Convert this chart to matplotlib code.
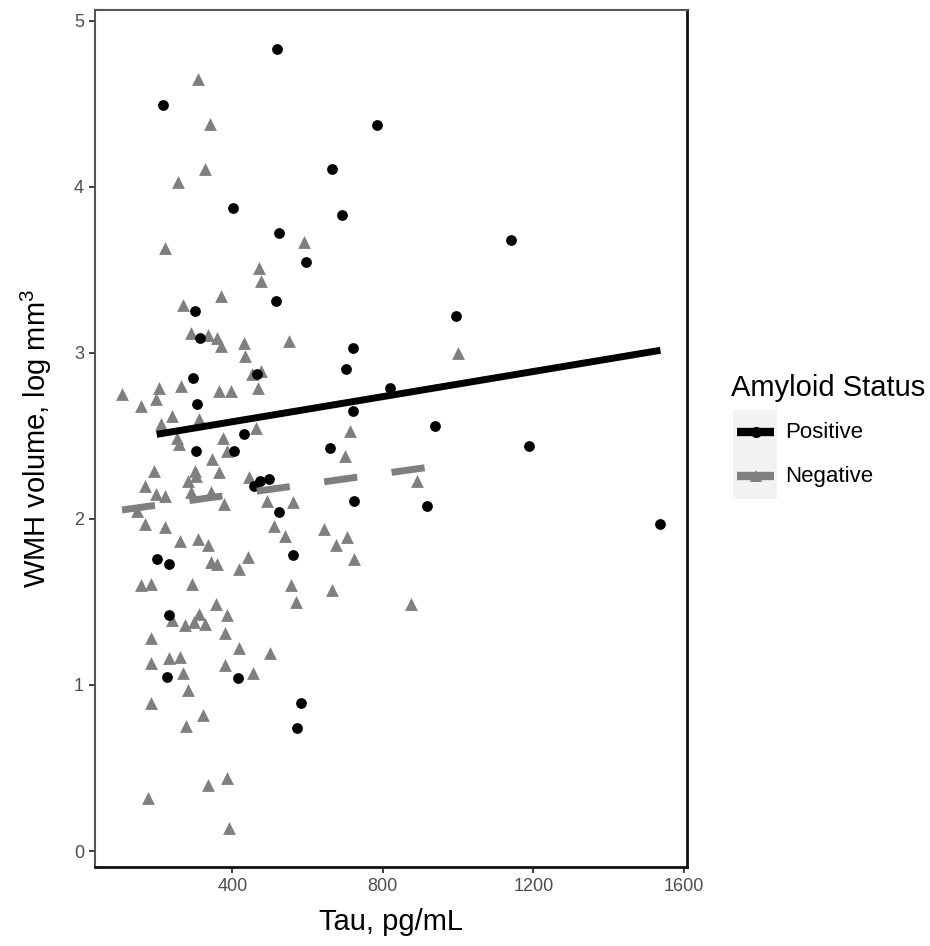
import numpy as np
import matplotlib
matplotlib.use("Agg")
import matplotlib.pyplot as plt
from matplotlib.lines import Line2D
from matplotlib.patches import Rectangle

plt.rcParams['font.family'] = ['Liberation Sans', 'DejaVu Sans']
plt.rcParams['mathtext.fontset'] = 'custom'
plt.rcParams['mathtext.rm'] = 'Liberation Sans'

# Amyloid positive (circles)
pos_tau = [519.5, 216.6, 665.6, 690.4, 400.7, 523.7, 596.5, 785.2, 1141.3, 300.5,
           515.0, 313.8, 294.4, 306.9, 430.7, 303.2, 404.2, 457.3, 473.3, 497.2,
           523.7, 658.5, 198.8, 232.5, 562.0, 464.5, 994.1, 719.6, 701.0, 820.4,
           720.4, 939.3, 1189.1, 723.0, 918.1, 1538.0, 232.5, 225.3, 415.9, 582.2,
           570.8]
pos_wmh = [4.83, 4.49, 4.11, 3.83, 3.87, 3.72, 3.55, 4.37, 3.68, 3.25,
           3.31, 3.09, 2.85, 2.69, 2.51, 2.41, 2.41, 2.20, 2.23, 2.24,
           2.04, 2.43, 1.76, 1.73, 1.78, 2.87, 3.22, 3.03, 2.90, 2.79,
           2.65, 2.56, 2.44, 2.11, 2.08, 1.97, 1.42, 1.05, 1.04, 0.89,
           0.74]

# Amyloid negative (triangles)
neg_tau = [308.5, 340.4, 328.2, 255.4, 220.0, 590.2, 470.6, 475.1, 370.7, 267.9,
           291.0, 335.1, 358.2, 370.7, 430.7, 432.6, 550.3, 451.2, 477.0, 468.0,
           106.6, 204.1, 264.4, 363.5, 397.3, 156.2, 196.9, 238.6, 211.3, 311.2,
           462.6, 251.9, 259.1, 374.1, 386.6, 345.7, 191.6, 299.7, 303.2, 281.9,
           365.4, 168.7, 445.1, 196.9, 220.0, 289.1, 344.1, 377.6, 145.6, 168.7,
           221.9, 491.1, 562.0, 510.5, 540.8, 643.3, 675.2, 260.7, 309.6, 334.3,
           342.3, 360.1, 441.4, 418.5, 999.4, 712.4, 700.2, 889.6, 703.6, 723.0,
           158.1, 184.7, 291.8, 554.8, 664.6, 568.1, 357.4, 312.2, 386.6, 240.5,
           273.2, 297.9, 326.3, 379.5, 184.7, 417.5, 499.0, 232.5, 260.7, 182.8,
           381.3, 269.7, 453.9, 281.9, 182.8, 322.9, 277.7, 384.8, 335.1, 175.6,
           391.9, 873.7]
neg_wmh = [4.65, 4.38, 4.11, 4.03, 3.63, 3.67, 3.51, 3.43, 3.34, 3.29,
           3.12, 3.11, 3.09, 3.04, 3.06, 2.98, 3.07, 2.87, 2.89, 2.79,
           2.75, 2.79, 2.80, 2.77, 2.77, 2.68, 2.72, 2.62, 2.57, 2.60,
           2.55, 2.49, 2.45, 2.49, 2.41, 2.36, 2.29, 2.29, 2.26, 2.23,
           2.28, 2.20, 2.25, 2.15, 2.14, 2.16, 2.16, 2.09, 2.05, 1.97,
           1.95, 2.11, 2.10, 1.96, 1.90, 1.94, 1.84, 1.87, 1.88, 1.84,
           1.74, 1.73, 1.77, 1.70, 3.00, 2.53, 2.38, 2.23, 1.89, 1.76,
           1.60, 1.61, 1.61, 1.60, 1.57, 1.50, 1.49, 1.43, 1.42, 1.39,
           1.36, 1.38, 1.37, 1.31, 1.28, 1.22, 1.19, 1.16, 1.17, 1.13,
           1.12, 1.07, 1.07, 0.97, 0.89, 0.82, 0.75, 0.44, 0.40, 0.32,
           0.14, 1.49]

# fitted lines (intercept, slope)
pos_fit = (2.434, 0.000378)
neg_fit = (2.02, 0.000316)

groups = ['Positive', 'Negative']
grey = '#7F7F7F'
W, H = 930, 946

fig = plt.figure(figsize=(W / 100, H / 100), dpi=100)
ax = fig.add_axes([0.1022, 0.0838, 0.6369, 0.9056])

ax.scatter(neg_tau, neg_wmh, marker='^', s=85, color=grey, linewidths=0, zorder=2)
ax.scatter(pos_tau, pos_wmh, marker='o', s=60, color='black', linewidths=0, zorder=2)

xp = np.array([min(pos_tau), max(pos_tau)])
ax.plot(xp, pos_fit[0] + pos_fit[1] * xp, color='black', lw=5, solid_capstyle='butt', zorder=3)
xn = np.array([min(neg_tau), max(neg_tau)])
ax.plot(xn, neg_fit[0] + neg_fit[1] * xn, color=grey, lw=5, dashes=(4.8, 5.0),
        dash_capstyle='butt', zorder=3)

# ggplot-style 5% expansion
all_x = pos_tau + neg_tau
all_y = pos_wmh + neg_wmh
dx = 0.05 * (max(all_x) - min(all_x))
dy = 0.05 * (max(all_y) - min(all_y))
ax.set_xlim(min(all_x) - dx, max(all_x) + dx)
ax.set_ylim(min(all_y) - dy, max(all_y) + dy)

ax.set_xticks([400, 800, 1200, 1600])
ax.set_yticks([0, 1, 2, 3, 4, 5])
ax.tick_params(direction='out', length=4, width=1.3, color='#333333',
               labelsize=13, labelcolor='#4D4D4D', pad=4)
for side in ['left', 'top']:
    ax.spines[side].set_color('#555555')
    ax.spines[side].set_linewidth(1.5)
for side in ['right', 'bottom']:
    ax.spines[side].set_color('#111111')
    ax.spines[side].set_linewidth(2.0)

ax.set_xlabel('Tau, pg/mL', fontsize=21)
ax.set_ylabel('WMH volume, log mm$^3$', fontsize=21)
ax.xaxis.set_label_coords(0.5, -0.064)
ax.xaxis.label.set_va('center')
ax.yaxis.set_label_coords(-0.0996, 0.5)
ax.yaxis.label.set_va('center')

# legend drawn by hand, ggplot style (grey key boxes)
def fx(px):
    return px / W

def fy(py):
    return 1 - py / H

fig.text(fx(731), fy(388), 'Amyloid Status', fontsize=21, ha='left', va='center')
key_colors = ['black', grey]
key_markers = [('o', 8), ('^', 9)]
for i, label in enumerate(groups):
    top = 410 + i * 44.5
    mid = top + 22
    fig.add_artist(Rectangle((fx(733), fy(top + 44.5)), fx(777) - fx(733), 44.5 / H,
                             transform=fig.transFigure, facecolor='#F2F2F2',
                             edgecolor='none'))
    fig.add_artist(Line2D([fx(737), fx(774)], [fy(mid), fy(mid)], lw=6,
                          color=key_colors[i], solid_capstyle='butt',
                          transform=fig.transFigure))
    fig.add_artist(Line2D([fx(755.5)], [fy(mid)], lw=0, transform=fig.transFigure,
                          color=key_colors[i], marker=key_markers[i][0],
                          markersize=key_markers[i][1], markeredgewidth=0))
    fig.text(fx(785), fy(mid), label, fontsize=16, ha='left', va='center')

fig.savefig('out.png', dpi=100)
